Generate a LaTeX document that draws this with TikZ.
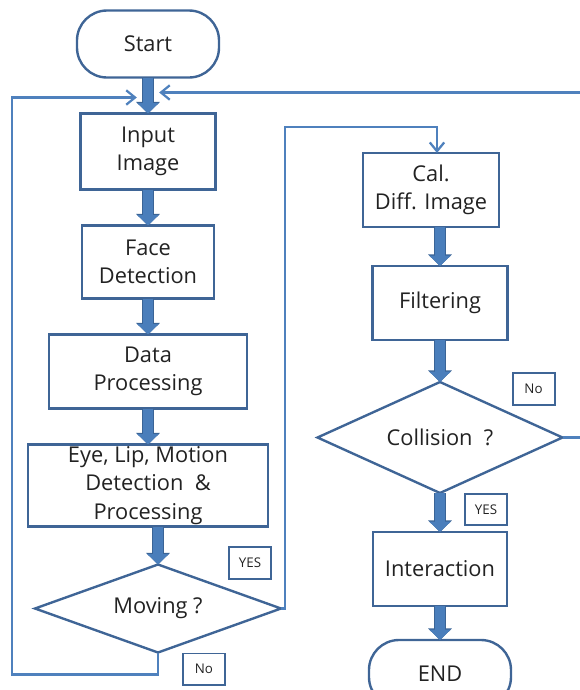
\documentclass[tikz,border=0pt]{standalone}
\usepackage{fontspec}
\setmainfont{Open Sans}
\usetikzlibrary{positioning, shapes.geometric, arrows.meta, calc}

\definecolor{boxline}{HTML}{3F6596}
\definecolor{fatblue}{HTML}{4A7EBB}
\definecolor{fatedge}{HTML}{3A6496}
\definecolor{thinline}{HTML}{4F81BD}
\definecolor{txt}{HTML}{222222}

\tikzset{
  terminal/.style={draw=boxline, line width=1.7pt, rounded corners=0.75cm,
    minimum width=3.55cm, minimum height=1.675cm, outer sep=0pt, text=txt,
    font=\fontsize{15.5}{20}\selectfont},
  proc/.style={draw=boxline, line width=1.7pt, minimum height=1.85cm,
    inner sep=2pt, outer sep=0pt, align=center, text=txt,
    font=\fontsize{15.5}{20}\selectfont},
  decision/.style={diamond, draw=boxline, line width=1.7pt, inner sep=0pt,
    outer sep=0pt, text=txt, font=\fontsize{15.5}{20}\selectfont},
  answer/.style={draw=boxline, line width=1.4pt, minimum width=1.05cm,
    minimum height=0.78cm, inner sep=0pt, text=txt,
    font=\fontsize{9.5}{11}\selectfont},
  fat/.style={line width=7pt, draw=fatblue, -{Triangle[width=0.52cm,length=0.26cm]},
    preaction={draw=fatedge, line width=8.5pt, -{Triangle[width=0.58cm,length=0.29cm]}}},
  flow/.style={line width=1.6pt, draw=thinline, -{Straight Barb[length=0.22cm,width=0.36cm]}}
}

\begin{document}
\begin{tikzpicture}[node distance=0.9cm]
  \useasboundingbox (0,0) rectangle (14.5,-17.25);

  \node[terminal] (start) at (3.7,-1.1) {Start};
  \node[proc, minimum width=3.375cm, minimum height=1.9cm, below=of start] (input) {Input\\Image};
  \node[proc, minimum width=3.3cm, minimum height=1.825cm, below=of input] (face) {Face\\Detection};
  \node[proc, minimum width=4.95cm, below=of face] (data) {Data\\Processing};
  \node[proc, minimum width=6cm, minimum height=2.05cm, inner sep=0pt, below=of data] (feature) {Eye, Lip, Motion\\Detection\ \ \&\\Processing};
  \node[decision, aspect=2.8, minimum width=6.15cm, minimum height=2.2cm, below=0.95cm of feature, xshift=0.25cm] (moving) {Moving ?};
  \node[answer, above left=0.725cm and 0.225cm of moving.east] (yes1) {YES};
  \node[answer, below right=0cm and 0.6cm of moving.south] (no1) {No};

  \node[proc, minimum width=3.4cm] (cal) at (10.775,-4.75) {Cal.\\Diff. Image};
  \node[proc, minimum width=3.375cm, below=0.975cm of cal, xshift=0.225cm] (filter) {Filtering};
  \node[decision, aspect=2.2, minimum width=6.125cm, minimum height=2.775cm, below=1.05cm of filter] (coll) {Collision\ \ ?};
  \node[proc, minimum width=3.35cm, below=0.975cm of coll] (inter) {Interaction};
  \node[terminal, below=0.85cm of inter] (stop) {END};
  \node[answer, above left=0.8cm and 0.175cm of coll.east] (no2) {No};
  \node[answer, below right=0cm and 0.6cm of coll.south] (yes2) {YES};

  \coordinate (mergeL) at ([xshift=-0.28cm, yshift=-0.5cm]start.south);
  \coordinate (mergeR) at ([xshift=0.28cm, yshift=-0.375cm]start.south);
  \coordinate (loopL) at (0.3,0);

  \draw[fat] (start) -- (input);
  \draw[fat] (input) -- (face);
  \draw[fat] (face) -- (data);
  \draw[fat] (data) -- (feature);
  \draw[fat] (feature.south -| moving.north) -- (moving.north);
  \draw[fat] (cal.south -| filter.north) -- (filter.north);
  \draw[fat] (filter) -- (coll);
  \draw[fat] (coll) -- (inter);
  \draw[fat] (inter) -- (stop);

  \draw[flow] (moving.south) -- ++(0,-0.55) -| (loopL |- mergeL) -- (mergeL);
  \draw[flow] (moving.east) -- ++(0.1,0) |- ([xshift=0.15cm, yshift=0.65cm]cal.north) -- ([xshift=0.15cm]cal.north);
  \draw[flow] (coll.east) -- ++(0.8,0) |- (mergeR);
\end{tikzpicture}
\end{document}
